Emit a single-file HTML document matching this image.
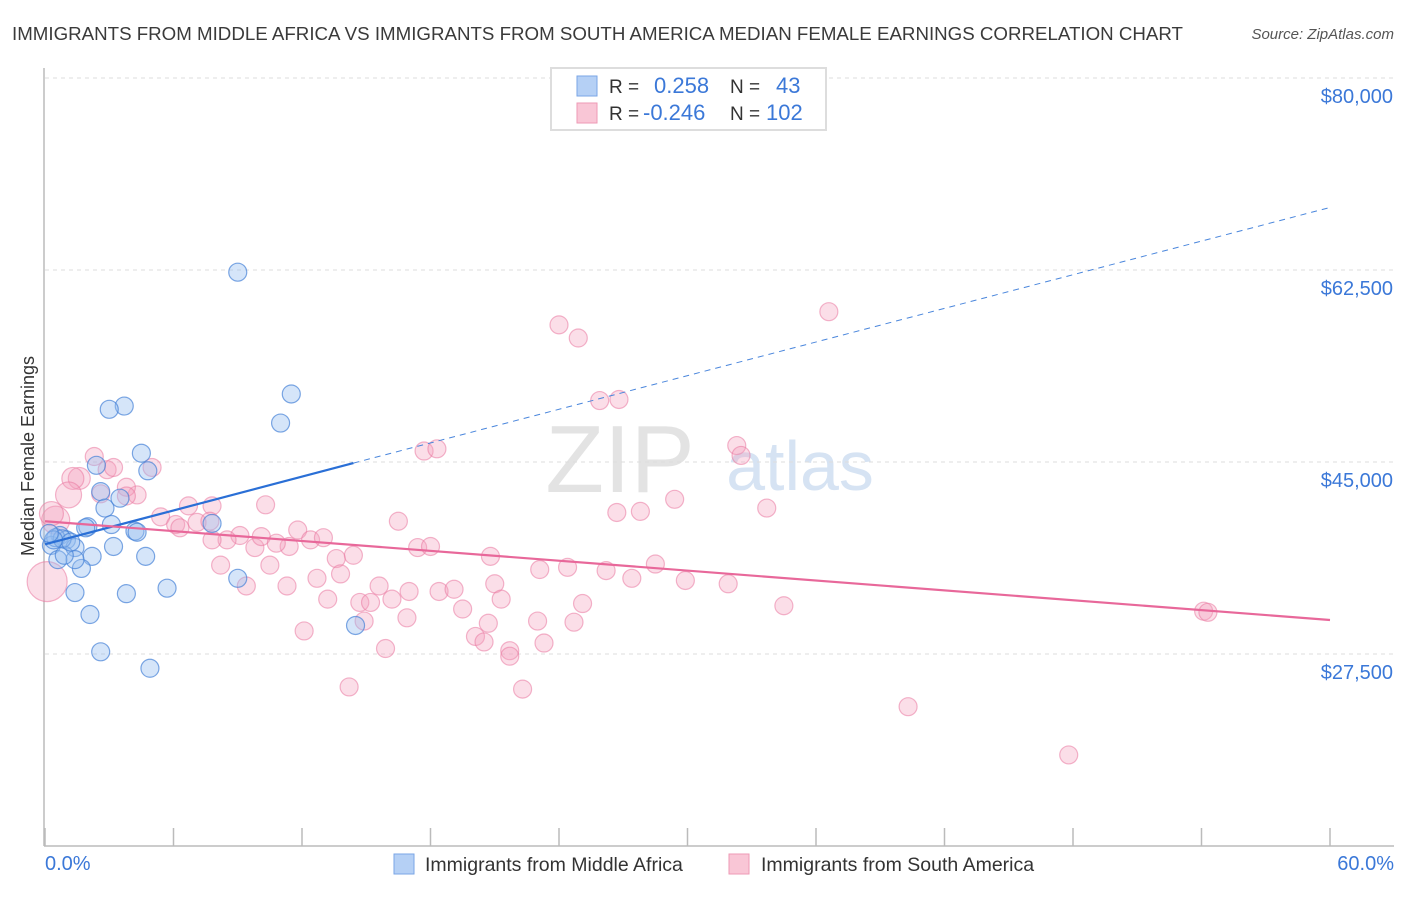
<!DOCTYPE html>
<html><head><meta charset="utf-8"><style>
body{margin:0;background:#fff;font-family:"Liberation Sans",sans-serif}
svg text{font-family:"Liberation Sans",sans-serif}
</style></head><body>
<svg width="1406" height="892">
<text x="12" y="40" font-size="18" textLength="1171" lengthAdjust="spacingAndGlyphs" fill="#3a3a3a">IMMIGRANTS FROM MIDDLE AFRICA VS IMMIGRANTS FROM SOUTH AMERICA MEDIAN FEMALE EARNINGS CORRELATION CHART</text>
<text x="1394" y="39" font-size="15" fill="#555" font-style="italic" text-anchor="end">Source: ZipAtlas.com</text>
<text x="620" y="492" font-size="96" fill="#e3e3e3" font-family="Liberation Serif" text-anchor="middle">ZIP</text>
<text x="800" y="490" font-size="70" fill="#d6e3f3" text-anchor="middle">atlas</text>
<g id="grid"></g><g id="axes"></g><g id="pts"></g><g id="lines"></g>
<text transform="translate(34,456) rotate(-90)" font-size="18" fill="#333" text-anchor="middle">Median Female Earnings</text>
<text x="45" y="870" font-size="20" fill="#3b78d8">0.0%</text>
<text x="1394" y="870" font-size="20" fill="#3b78d8" text-anchor="end">60.0%</text>
<g>
<rect x="551" y="68" width="275" height="62" fill="#fff" stroke="#ddd" stroke-width="2"/>
<rect x="577" y="76" width="20" height="20" fill="#b5d0f5" stroke="#7aa6e6"/>
<rect x="577" y="103" width="20" height="20" fill="#f9c6d6" stroke="#ee9ab5"/>
<text x="609" y="93" font-size="19" fill="#333">R =</text><text x="654" y="93" font-size="22" fill="#3b78d8">0.258</text>
<text x="730" y="93" font-size="19" fill="#333">N =</text><text x="776" y="93" font-size="22" fill="#3b78d8">43</text>
<text x="609" y="120" font-size="19" fill="#333">R =</text><text x="643" y="120" font-size="22" fill="#3b78d8">-0.246</text>
<text x="730" y="120" font-size="19" fill="#333">N =</text><text x="766" y="120" font-size="22" fill="#3b78d8">102</text>
</g>
<g>
<rect x="394" y="854" width="20" height="20" fill="#b5d0f5" stroke="#7aa6e6"/>
<text x="425" y="871" font-size="19.5" fill="#333">Immigrants from Middle Africa</text>
<rect x="729" y="854" width="20" height="20" fill="#f9c6d6" stroke="#ee9ab5"/>
<text x="761" y="871" font-size="19.5" fill="#333">Immigrants from South America</text>
</g>
</svg>
<script>
const yTicks=[80000,62500,45000,27500];
const yTickLabels=["$80,000","$62,500","$45,000","$27,500"];
const xTicks=[0,6,12,18,24,30,36,42,48,54,60];
const blueX=[9.0,11.5,11.0,3.7,3.0,4.5,4.8,2.4,2.6,2.8,3.5,7.8,4.2,3.1,2.0,0.7,1.0,0.3,1.4,2.2,3.2,4.7,1.7,1.4,0.6,0.9,9.0,5.7,1.4,3.8,2.1,2.6,4.9,14.5,0.5,0.8,1.2,0.4,1.9,4.3,0.2];
const blueY=[62300,51200,48550,50100,49800,45800,44200,44700,42300,40800,41700,39400,38700,39300,39100,38300,37900,37400,37200,36400,37300,36400,35300,36100,36100,36500,34400,33500,33100,33000,31100,27700,26200,30100,38100,38000,37700,37900,39000,38600,38500];
const pinkX=[24.0,24.9,36.6,25.9,26.8,32.3,32.5,17.7,18.3,29.4,26.7,27.8,33.7,16.5,10.3,7.8,6.7,5.0,2.3,2.9,3.2,1.6,1.3,1.1,4.3,3.8,3.8,5.4,6.1,7.1,7.7,9.1,8.5,7.8,9.8,10.1,11.4,11.8,12.4,13.0,10.8,8.2,10.5,13.6,14.4,17.4,18.0,20.8,23.1,24.4,26.2,27.4,28.5,29.9,31.9,12.7,13.8,11.3,9.4,15.6,17.0,18.4,19.1,21.0,13.2,14.7,15.2,16.2,21.3,25.1,19.5,16.9,14.9,20.7,23.0,24.7,34.5,54.1,54.3,20.1,20.5,21.7,21.7,23.3,12.1,15.9,14.2,22.3,40.3,47.8,0.1,0.5,2.6,0.3,6.3];
const pinkY=[57500,56300,58700,50600,50700,46500,45600,46000,46200,41600,40400,40500,40800,39600,41100,41000,41000,44500,45500,44300,44500,43500,43500,42000,42000,42700,41900,40000,39300,39500,39600,38300,37900,37900,37200,38200,37300,38800,37900,38100,37600,35600,35600,36200,36500,37200,37300,36400,35200,35400,35100,34400,35700,34200,33900,34400,34800,33700,33700,33700,33200,33200,33400,33900,32500,32200,32200,32500,32500,32100,31600,30800,30500,30300,30500,30400,31900,31400,31300,29100,28600,27800,27300,28500,29600,28000,24500,24300,22700,18300,34100,39700,42100,40300,39000];
const pinkR=[9,9,9,9,9,9,9,9,9,9,9,9,9,9,9,9,9,9,9,9,9,11,11,13,9,9,9,9,9,9,9,9,9,9,9,9,9,9,9,9,9,9,9,9,9,9,9,9,9,9,9,9,9,9,9,9,9,9,9,9,9,9,9,9,9,9,9,9,9,9,9,9,9,9,9,9,9,9,9,9,9,9,9,9,9,9,9,9,9,9,20,14,9,12,9];
const blueLine=[[0,37500],[14.4,44900]], blueDash=[[14.4,44900],[60,68200]];
const pinkLine=[[0,39600],[60,30600]];
const X=v=>45+v/60*1285, Y=v=>462-(v-45000)*192/17500;
const NS="http://www.w3.org/2000/svg";
function mk(t,a,p){const e=document.createElementNS(NS,t);for(const k in a)e.setAttribute(k,a[k]);p.appendChild(e);return e;}
const grid=document.getElementById('grid'),axes=document.getElementById('axes'),pts=document.getElementById('pts'),lines=document.getElementById('lines');
yTicks.forEach((v,i)=>{
 const l=mk('line',{x1:45,y1:Y(v),x2:1394,y2:Y(v),stroke:'#ddd','stroke-dasharray':'4,4'},grid);
 
 
 const t=mk('text',{x:1393,y:Y(v)+25,'font-size':20,fill:'#3b78d8','text-anchor':'end'},axes);
 t.textContent=yTickLabels[i];
 
 
});
mk('line',{x1:44,y1:68,x2:44,y2:846,stroke:'#bbb','stroke-width':1.5},axes);
mk('line',{x1:44,y1:846,x2:1394,y2:846,stroke:'#bbb','stroke-width':1.5},axes);
xTicks.forEach(v=>{const t=mk('line',{x1:X(v),y1:828,x2:X(v),y2:846,stroke:'#bbb','stroke-width':1.5},axes);
 
 });
pinkX.forEach((x,i)=>{const c=mk('circle',{cx:X(x),cy:Y(pinkY[i]),r:pinkR[i],fill:'rgba(244,160,188,0.35)',stroke:'rgba(234,120,160,0.55)','stroke-width':1.2},pts);
 
 });
blueX.forEach((x,i)=>{const c=mk('circle',{cx:X(x),cy:Y(blueY[i]),r:9,fill:'rgba(150,190,240,0.4)',stroke:'rgba(70,130,215,0.7)','stroke-width':1.2},pts);
 
 });
const bl=mk('line',{x1:X(blueLine[0][0]),y1:Y(blueLine[0][1]),x2:X(blueLine[1][0]),y2:Y(blueLine[1][1]),stroke:'#2a6fd6','stroke-width':2.2},lines);


const bd=mk('line',{x1:X(blueDash[0][0]),y1:Y(blueDash[0][1]),x2:X(blueDash[1][0]),y2:Y(blueDash[1][1]),stroke:'#4a86dc','stroke-width':1,'stroke-dasharray':'6,5'},lines);


const pl=mk('line',{x1:X(pinkLine[0][0]),y1:Y(pinkLine[0][1]),x2:X(pinkLine[1][0]),y2:Y(pinkLine[1][1]),stroke:'#e8689a','stroke-width':2.2},lines);


</script>
</body></html>
